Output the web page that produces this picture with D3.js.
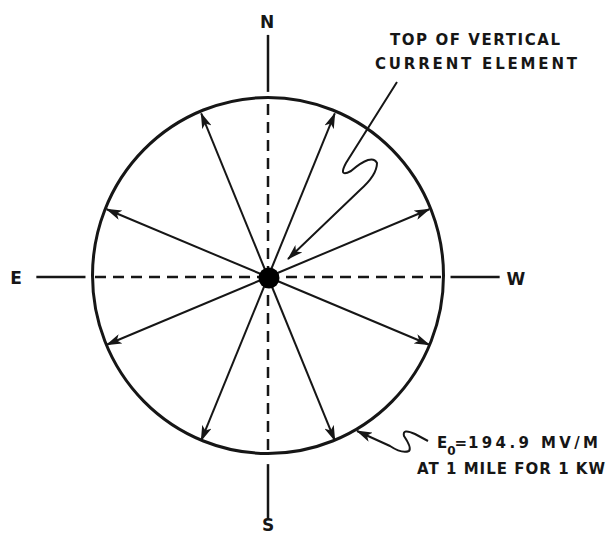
<!DOCTYPE html>
<html><head><meta charset="utf-8">
<script src="https://cdn.jsdelivr.net/npm/d3@7"></script>
<style>body{margin:0;background:#fff}svg{display:block}</style>
</head><body>
<script>
// ---- data ----
const arrowBearings = [22.5, 67.5, 112.5, 157.5, 202.5, 247.5, 292.5, 337.5]; // degrees, clockwise from top
const fieldValues = [194.9, 194.9, 194.9, 194.9, 194.9, 194.9, 194.9, 194.9]; // mV/m at 1 mile, 1 kW
const compassLabels = ["N", "W", "S", "E"];
const compassBearings = [0, 90, 180, 270];
const noteTop = ["TOP OF VERTICAL", "CURRENT ELEMENT"];
const noteBottom = ["194.9 MV/M", "AT 1 MILE FOR 1 KW"];

const W = 607, H = 535, cx = 268, cy = 277;
const svg = d3.select("body").append("svg").attr("width", W).attr("height", H);
const ink = "#161616";
const font = "DejaVu Sans, Liberation Sans, sans-serif";

const rx = d3.scaleLinear().domain([0, 194.9]).range([0, 175.5]);
const ry = d3.scaleLinear().domain([0, 194.9]).range([0, 178]);
const rad = d3.scaleLinear().domain([0, 360]).range([0, 2 * Math.PI]);
const px = (b, v) => cx + rx(v) * Math.sin(rad(b));
const py = (b, v) => cy - ry(v) * Math.cos(rad(b));

const defs = svg.append("defs");
defs.append("marker").attr("id", "ah").attr("viewBox", "0 0 16 10").attr("refX", 15).attr("refY", 5)
  .attr("markerWidth", 16).attr("markerHeight", 10).attr("markerUnits", "userSpaceOnUse").attr("orient", "auto")
  .append("path").attr("d", "M0,0 L16,5 L0,10 L4,5 Z").attr("fill", ink);

const fMax = d3.max(fieldValues);
// pattern circle (ellipse via scales)
svg.append("ellipse").attr("cx", cx).attr("cy", cy - 1.5).attr("rx", rx(fMax)).attr("ry", ry(fMax))
  .attr("fill", "none").attr("stroke", ink).attr("stroke-width", 3);

// compass axes: dashed inside, solid outside
compassBearings.forEach((b, i) => {
  const inR = fMax, outStart = fMax * 1.04, outEnd = fMax * (i % 2 === 0 ? 1.36 : 1.32);
  svg.append("line").attr("x1", cx).attr("y1", cy).attr("x2", px(b, inR)).attr("y2", py(b, inR) - (b === 0 ? 1.5 : 0))
    .attr("stroke", ink).attr("stroke-width", 2.5).attr("stroke-dasharray", "11,7");
  svg.append("line").attr("x1", px(b, outStart)).attr("y1", py(b, outStart) + (b === 180 ? 2 : 0))
    .attr("x2", px(b, outEnd)).attr("y2", py(b, outEnd))
    .attr("stroke", ink).attr("stroke-width", 2.5);
});
// compass labels
const labPos = {N: [267, 28], S: [268, 531], E: [16, 284], W: [516, 285]};
compassLabels.forEach(l => {
  svg.append("text").attr("x", labPos[l][0]).attr("y", labPos[l][1]).attr("text-anchor", "middle")
    .attr("font-family", font).attr("font-weight", "bold").attr("font-size", 17).attr("fill", ink).text(l);
});

// radiating field arrows
svg.selectAll("line.arr").data(arrowBearings).join("line").attr("class", "arr")
  .attr("x1", cx).attr("y1", cy)
  .attr("x2", (b, i) => px(b, fieldValues[i] * 0.995)).attr("y2", (b, i) => py(b, fieldValues[i] * 0.995))
  .attr("stroke", ink).attr("stroke-width", 2).attr("marker-end", "url(#ah)");

// center element
svg.append("circle").attr("cx", cx + 1).attr("cy", cy + 1).attr("r", 10.5).attr("fill", "#000");

// leader to top of element
svg.append("path")
  .attr("d", "M397,82 L346,163 Q338,178 351,171 Q372,153 377,163 Q377,175 360,190 L288,259")
  .attr("fill", "none").attr("stroke", ink).attr("stroke-width", 2).attr("marker-end", "url(#ah)");
// leader to pattern circle (bottom right)
svg.append("path")
  .attr("d", "M428,441 L415,434 Q402,428 404,436 Q412,448 409,451 Q402,454 390,446 L357,431")
  .attr("fill", "none").attr("stroke", ink).attr("stroke-width", 2).attr("marker-end", "url(#ah)");

// notes
const t1 = svg.append("g").attr("font-family", font).attr("font-weight", "bold").attr("font-size", 15).attr("fill", ink);
t1.append("text").attr("x", 390).attr("y", 45).attr("textLength", 170).attr("lengthAdjust", "spacing").text(noteTop[0]);
t1.append("text").attr("x", 375).attr("y", 69).attr("textLength", 202).attr("lengthAdjust", "spacing").text(noteTop[1]);

const e0 = t1.append("text").attr("x", 437).attr("y", 448);
e0.append("tspan").text("E");
e0.append("tspan").attr("font-size", 12).attr("dy", 7).text("0");
e0.append("tspan").attr("dy", -7).attr("dx", -1).text("=");
t1.append("text").attr("x", 468).attr("y", 448).attr("textLength", 130).attr("lengthAdjust", "spacing").text(noteBottom[0]);
t1.append("text").attr("x", 417).attr("y", 474).attr("textLength", 188).attr("lengthAdjust", "spacing").text(noteBottom[1]);
</script>
</body></html>
